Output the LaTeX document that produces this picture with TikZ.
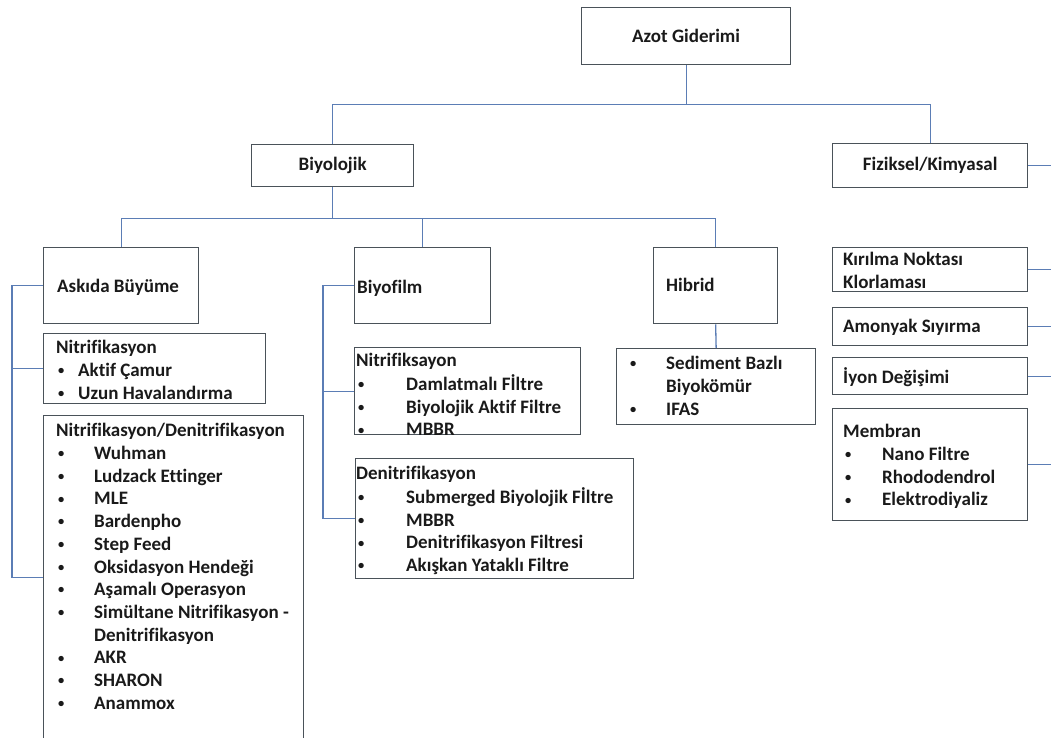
\documentclass[tikz,border=0pt]{standalone}
\usepackage{fontspec}
\setmainfont{Carlito}[Ligatures=NoCommon]
\definecolor{linkc}{HTML}{5B7DB5}
\definecolor{boxc}{HTML}{4A5259}
\definecolor{txtc}{HTML}{1A1A1A}
\newcommand{\bi}[2]{\makebox[#1pt][l]{\hspace*{2pt}\raisebox{1.8pt}{\fontsize{12.5}{12.5}\selectfont •}}#2}
\tikzset{
  box/.style={draw=boxc, line width=1.3pt, fill=white, anchor=north west, inner sep=0pt},
  lbl/.style={anchor=west, inner sep=0pt, text=txtc, font=\fontsize{19}{22.7}\selectfont\bfseries},
  lst/.style={anchor=north west, inner sep=0pt, align=left, text=txtc, font=\fontsize{19}{22.7}\selectfont\bfseries},
  link/.style={draw=linkc, line width=1.3pt},
}
\begin{document}
\begin{tikzpicture}[x=1pt,y=-1pt]
\useasboundingbox (0,0) rectangle (1051,737);
\fill[white] (0,0) rectangle (1051,737);
\clip (0,0) rectangle (1051,737);
\coordinate (redge) at (1060,0);
% boxes
\node[box, minimum width=209pt, minimum height=57pt] (azot) at (581,7) {};
\node[box, minimum width=162pt, minimum height=42pt] (bio) at (251,144) {};
\node[box, minimum width=195pt, minimum height=44pt] (fiz) at (832,143) {};
\node[box, minimum width=155pt, minimum height=76pt] (askida) at (43,247) {};
\node[box, minimum width=136pt, minimum height=76pt] (biyofilm) at (354,247) {};
\node[box, minimum width=124pt, minimum height=76pt] (hibrid) at (653,247) {};
\node[box, minimum width=222pt, minimum height=70pt] (nit1) at (43,333) {};
\node[box, minimum width=260pt, minimum height=324pt] (nitden) at (43,415) {};
\node[box, minimum width=226pt, minimum height=87pt] (nit2) at (354,347) {};
\node[box, minimum width=278pt, minimum height=120pt] (den2) at (355,458) {};
\node[box, minimum width=199pt, minimum height=76pt] (hibsub) at (616,348) {};
\node[box, minimum width=195pt, minimum height=44pt] (kir) at (832,247) {};
\node[box, minimum width=195pt, minimum height=38pt] (amo) at (832,307) {};
\node[box, minimum width=195pt, minimum height=37pt] (iyon) at (832,357) {};
\node[box, minimum width=195pt, minimum height=112pt] (mem) at (832,408) {};
% connectors
\draw[link] (azot.south) -- ++(0,39) coordinate (j1);
\draw[link] (bio.north) |- (j1) -| (fiz.north);
\draw[link] (bio.south) -- ++(0,31) coordinate (j2);
\draw[link] (askida.north) |- (j2) -| (hibrid.north);
\draw[link] (biyofilm.north) -- (biyofilm.north |- j2);
\draw[link] (askida.west) -- ++(-31,0) coordinate (a1) |- (nitden.west);
\draw[link] (nit1.west) -- (nit1.west -| a1);
\draw[link] (biyofilm.west) -- ++(-31,0) coordinate (b1) |- (den2.west);
\draw[link] (nit2.west) -- (nit2.west -| b1);
\draw[link] (hibrid.south) -- (hibsub.north);
\draw[link] (fiz.east) -- (fiz.east -| redge);
\draw[link] (kir.east) -- (kir.east -| redge);
\draw[link] (amo.east) -- (amo.east -| redge);
\draw[link] (iyon.east) -- (iyon.east -| redge);
\draw[link] (mem.east) -- (mem.east -| redge);
% texts
\node[lbl, anchor=center] (tazot) at (azot.center) {Azot Giderimi};
\node[lbl, anchor=center] (tbio) at (bio.center) {Biyolojik};
\node[lbl, anchor=center] (tfiz) at (fiz.center) {Fiziksel/Kimyasal};
\node[lbl] (taskida) at (57,287) {Askıda Büyüme};
\node[lbl] (tbiyofilm) at (357,288) {Biyofilm};
\node[lbl] (thibrid) at (666,285) {Hibrid};
\node[lbl] (tamo) at (843,327) {Amonyak Sıyırma};
\node[lbl] (tiyon) at (843,377) {İyon Değişimi};
\node[lst] (tkir) at (843,249.7) {\strut Kırılma Noktası\\Klorlaması};
\node[lst] (tnit1) at (56,337.7) {\strut Nitrifikasyon\\\bi{22}{Aktif Çamur}\\\bi{22}{Uzun Havalandırma}};
\node[lst] (tnitden) at (56,420.7) {\strut Nitrifikasyon/Denitrifikasyon\\
\bi{38}{Wuhman}\\\bi{38}{Ludzack Ettinger}\\\bi{38}{MLE}\\\bi{38}{Bardenpho}\\
\bi{38}{Step Feed}\\\bi{38}{Oksidasyon Hendeği}\\\bi{38}{Aşamalı Operasyon}\\
\bi{38}{Simültane Nitrifikasyon -}\\\hspace*{38pt}Denitrifikasyon\\
\bi{38}{AKR}\\\bi{38}{SHARON}\\\bi{38}{Anammox}};
\node[lst] (tnit2) at (356,350.7) {\strut Nitrifiksayon\\\bi{50}{Damlatmalı Fİltre}\\\bi{50}{Biyolojik Aktif Filtre}\\\bi{50}{MBBR}};
\node[lst] (tden2) at (356,463.7) {\strut Denitrifikasyon\\\bi{50}{Submerged Biyolojik Fİltre}\\\bi{50}{MBBR}\\\bi{50}{Denitrifikasyon Filtresi}\\\bi{50}{Akışkan Yataklı Filtre}};
\node[lst] (thib) at (628,353.7) {\strut\bi{38}{Sediment Bazlı}\\\hspace*{38pt}Biyokömür\\\bi{38}{IFAS}};
\node[lst] (tmem) at (843,421.7) {\strut Membran\\\bi{39}{Nano Filtre}\\\bi{39}{Rhododendrol}\\\bi{39}{Elektrodiyaliz}};
\end{tikzpicture}
\end{document}
